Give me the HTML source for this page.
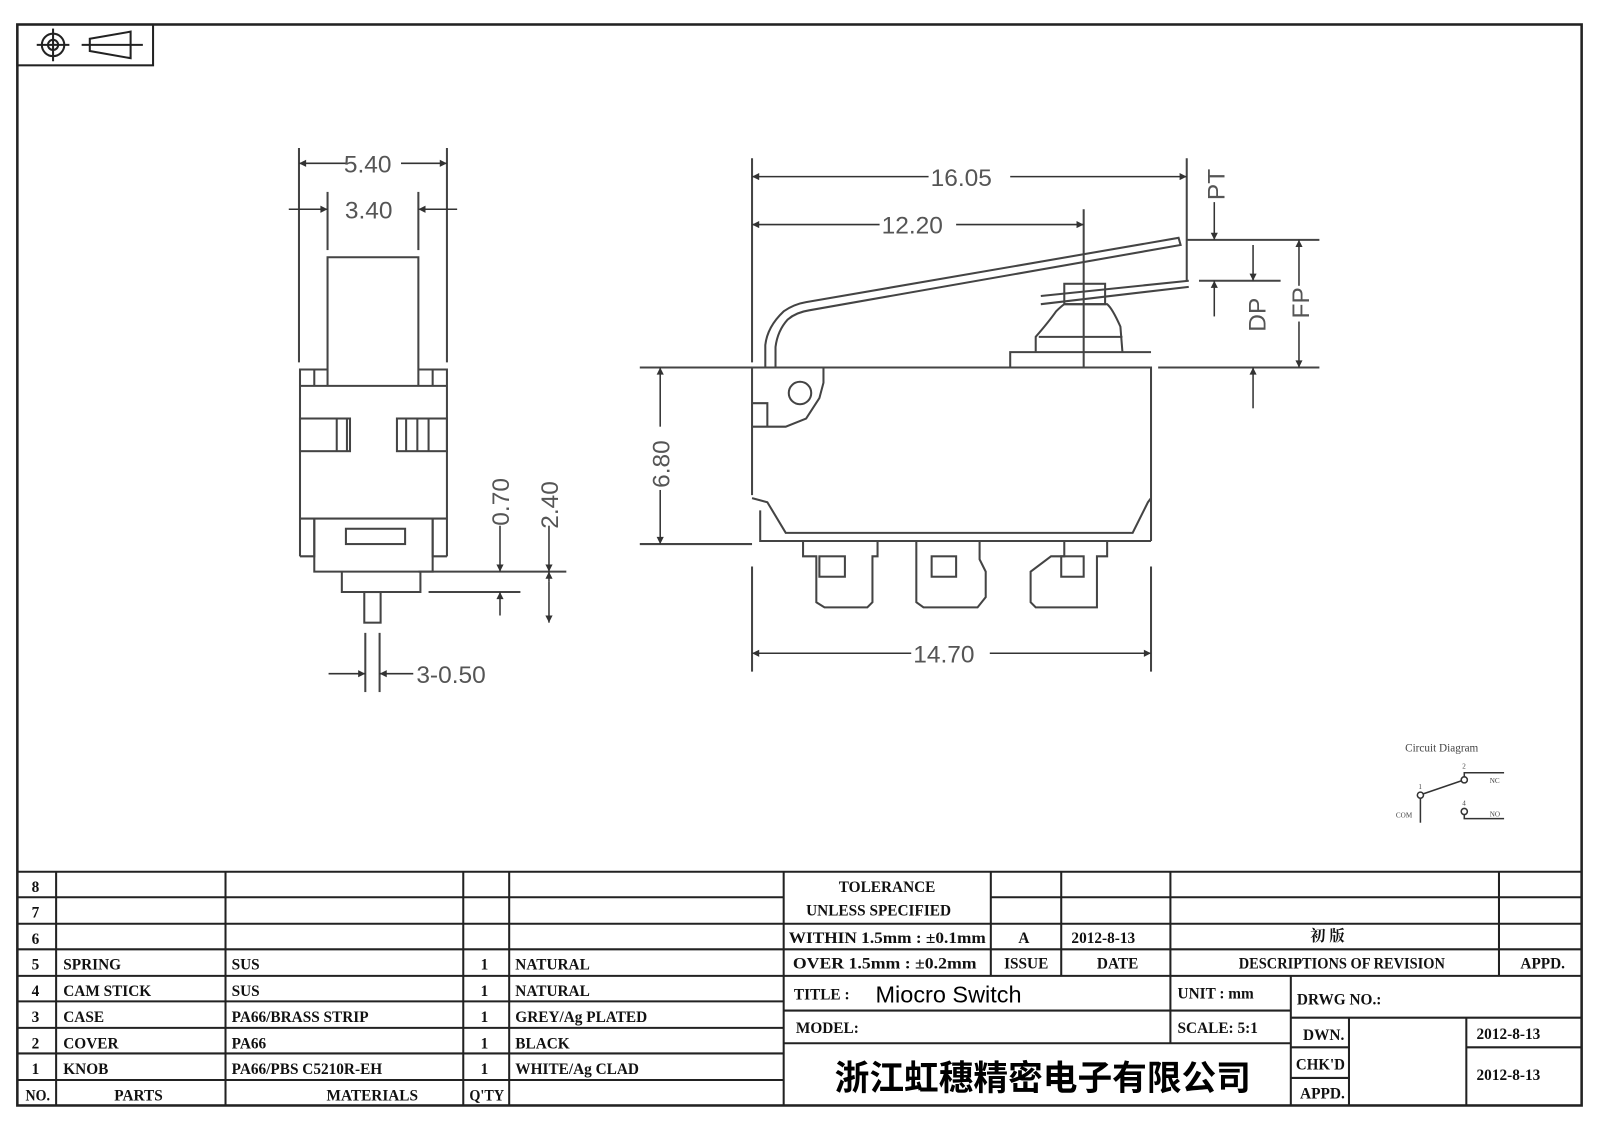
<!DOCTYPE html>
<html><head><meta charset="utf-8"><style>
html,body{margin:0;padding:0;background:#fff;}
svg{display:block;}
.t{font-family:"Liberation Serif","Noto Serif CJK SC",serif;font-weight:bold;font-size:15px;fill:#111;}
.d{font-family:"Liberation Sans",sans-serif;font-size:24px;fill:#555;}
</style></head><body>
<svg width="1600" height="1131" viewBox="0 0 1568 1108" preserveAspectRatio="none" xmlns="http://www.w3.org/2000/svg">
<defs>
<marker id="a" viewBox="0 0 10 10" refX="10" refY="5" markerWidth="16" markerHeight="7" orient="auto-start-reverse" markerUnits="userSpaceOnUse"><path d="M0,0 L10,5 L0,10z" fill="#333"/></marker>
</defs>
<rect width="1568" height="1108" fill="#fff"/>
<rect x="17" y="24" width="1533" height="1059" fill="none" stroke="#222" stroke-width="2.5"/>
<rect x="17" y="24" width="133" height="40" fill="none" stroke="#222" stroke-width="2"/>
<g stroke="#222" stroke-width="2" fill="none">
<circle cx="52" cy="44" r="11"/><circle cx="52" cy="44" r="5"/>
<line x1="36" y1="44" x2="68" y2="44"/><line x1="52" y1="28" x2="52" y2="60"/>
<path d="M88,38 L128,31 L128,57 L88,50z"/><line x1="80" y1="44" x2="140" y2="44"/>
</g>

<g stroke="#444" stroke-width="2" fill="none">
<line x1="293" y1="145" x2="293" y2="355"/><line x1="438" y1="145" x2="438" y2="355"/>
<line x1="321" y1="188" x2="321" y2="245"/><line x1="410" y1="188" x2="410" y2="245"/>
<path d="M321,378 V252 H410 V378"/>
<path d="M294,545 V362 H321 M410,362 H438 V545"/>
<line x1="294" y1="378" x2="438" y2="378"/>
<line x1="308" y1="362" x2="308" y2="378"/><line x1="424" y1="362" x2="424" y2="378"/>
<rect x="294" y="410" width="49" height="32"/><line x1="330" y1="410" x2="330" y2="442"/><line x1="340" y1="410" x2="340" y2="442"/>
<rect x="389" y="410" width="49" height="32"/><line x1="398" y1="410" x2="398" y2="442"/><line x1="409" y1="410" x2="409" y2="442"/><line x1="420" y1="410" x2="420" y2="442"/>
<line x1="294" y1="508" x2="438" y2="508"/>
<path d="M294,545 H308 V508 M438,545 H424 V508"/>
<path d="M308,508 V560 H424 V508"/>
<rect x="339" y="518" width="58" height="15"/>
<path d="M335,560 V580 H412 V560"/>
<rect x="357" y="580" width="16" height="30"/>
<line x1="358" y1="620" x2="358" y2="678"/><line x1="372" y1="620" x2="372" y2="678"/>
<line x1="410" y1="560" x2="555" y2="560"/>
<line x1="420" y1="580" x2="510" y2="580"/>
</g>
<g stroke="#333" stroke-width="1.5">
<line x1="293" y1="160" x2="340" y2="160" marker-start="url(#a)"/><line x1="393" y1="160" x2="438" y2="160" marker-end="url(#a)"/>
<line x1="283" y1="205" x2="321" y2="205" marker-end="url(#a)"/><line x1="410" y1="205" x2="448" y2="205" marker-start="url(#a)"/>
<line x1="490" y1="515" x2="490" y2="560" marker-end="url(#a)"/><line x1="490" y1="603" x2="490" y2="580" marker-end="url(#a)"/>
<line x1="538" y1="515" x2="538" y2="560" marker-end="url(#a)"/><line x1="538" y1="570" x2="538" y2="560" marker-end="url(#a)"/><line x1="538" y1="570" x2="538" y2="610" marker-end="url(#a)"/>
<line x1="322" y1="660" x2="358" y2="660" marker-end="url(#a)"/><line x1="405" y1="660" x2="372" y2="660" marker-end="url(#a)"/>
</g>
<text class="d" x="337" y="169">5.40</text>
<text class="d" x="338" y="214">3.40</text>
<text class="d" x="408" y="669">3-0.50</text>
<text class="d" transform="translate(499,515) rotate(-90)">0.70</text>
<text class="d" transform="translate(547,518) rotate(-90)">2.40</text>

<g stroke="#444" stroke-width="2" fill="none">
<path d="M737,360 H1128 V530"/>
<path d="M737,360 V485"/>
<path d="M737,395 H752 V418 M737,418 H770 L790,410 L803,390 L807,375 V360"/>
<circle cx="784" cy="385" r="11"/>
<path d="M750,360 V338 Q752,320 768,305 Q778,298 790,296 L1155,233 L1157,240 L793,304 Q780,306 772,313 Q762,324 760,340 V360"/>
<path d="M990,360 V345 H1128"/>
<path d="M1015,345 V330 Q1028,315 1035,305 Q1040,300 1043,298 H1085 Q1090,302 1098,320 L1100,345"/>
<rect x="1043" y="278" width="40" height="20"/>
<line x1="1018" y1="330" x2="1100" y2="330"/>
<line x1="1020" y1="290" x2="1165" y2="275"/><line x1="1020" y1="298" x2="1165" y2="281"/>
<path d="M737,488 L752,492 L770,522 H1110 L1125,492 L1128,488"/>
<path d="M745,500 V530 H1128"/>
<path d="M787,530 V545 H800 V590 L808,595 H850 L855,590 V545 H860 V530"/>
<rect x="803" y="545" width="25" height="20"/>
<path d="M898,530 V590 L905,595 H958 L966,585 V560 L960,548 V530"/>
<rect x="913" y="545" width="24" height="20"/>
<path d="M1043,530 V545 H1030 L1010,560 V590 L1015,595 H1075 V545 H1085 V530"/>
<rect x="1040" y="545" width="22" height="20"/>
<line x1="737" y1="155" x2="737" y2="355"/><line x1="1163" y1="155" x2="1163" y2="275"/>
<line x1="1062" y1="205" x2="1062" y2="360"/>
<line x1="627" y1="360" x2="737" y2="360"/><line x1="627" y1="533" x2="737" y2="533"/>
<line x1="737" y1="555" x2="737" y2="658"/><line x1="1128" y1="555" x2="1128" y2="658"/>
<line x1="1163" y1="235" x2="1293" y2="235"/><line x1="1175" y1="275" x2="1255" y2="275"/>
<line x1="1135" y1="360" x2="1293" y2="360"/>
</g>
<g stroke="#333" stroke-width="1.5">
<line x1="737" y1="173" x2="910" y2="173" marker-start="url(#a)"/><line x1="990" y1="173" x2="1163" y2="173" marker-end="url(#a)"/>
<line x1="737" y1="220" x2="862" y2="220" marker-start="url(#a)"/><line x1="937" y1="220" x2="1062" y2="220" marker-end="url(#a)"/>
<line x1="647" y1="360" x2="647" y2="418" marker-start="url(#a)"/><line x1="647" y1="480" x2="647" y2="533" marker-end="url(#a)"/>
<line x1="737" y1="640" x2="893" y2="640" marker-start="url(#a)"/><line x1="970" y1="640" x2="1128" y2="640" marker-end="url(#a)"/>
<line x1="1190" y1="198" x2="1190" y2="235" marker-end="url(#a)"/>
<line x1="1228" y1="240" x2="1228" y2="275" marker-end="url(#a)"/>
<line x1="1190" y1="310" x2="1190" y2="275" marker-end="url(#a)"/>
<line x1="1273" y1="280" x2="1273" y2="235" marker-end="url(#a)"/><line x1="1273" y1="315" x2="1273" y2="360" marker-end="url(#a)"/>
<line x1="1228" y1="400" x2="1228" y2="360" marker-end="url(#a)"/>
</g>
<text class="d" x="912" y="182">16.05</text>
<text class="d" x="864" y="229">12.20</text>
<text class="d" x="895" y="649">14.70</text>
<text class="d" transform="translate(656,478) rotate(-90)">6.80</text>
<text class="d" transform="translate(1200,196) rotate(-90)">PT</text>
<text class="d" transform="translate(1240,325) rotate(-90)">DP</text>
<text class="d" transform="translate(1283,312) rotate(-90)">FP</text>

<text x="1377" y="736" style="font-family:'Liberation Serif',serif;font-size:11px;fill:#444">Circuit Diagram</text>
<g stroke="#333" stroke-width="1.5" fill="none">
<circle cx="1392" cy="779" r="3"/><circle cx="1435" cy="764" r="3"/><circle cx="1435" cy="795" r="3"/>
<line x1="1394" y1="778" x2="1432" y2="765"/><line x1="1392" y1="782" x2="1392" y2="806"/>
<path d="M1435,761 V757 H1474"/><path d="M1435,798 V802 H1474"/>
</g>
<g style="font-family:'Liberation Serif',serif;font-size:7px;fill:#444">
<text x="1390" y="773">1</text><text x="1433" y="753">2</text><text x="1433" y="789">4</text>
<text x="1368" y="801">COM</text><text x="1460" y="767">NC</text><text x="1460" y="800">NO</text>
</g>

<g stroke="#222" stroke-width="2" fill="none">
<line x1="17" y1="854" x2="1550" y2="854"/>
<line x1="17" y1="879" x2="768" y2="879"/><line x1="17" y1="905" x2="768" y2="905"/><line x1="17" y1="930" x2="768" y2="930"/>
<line x1="17" y1="956" x2="1550" y2="956"/><line x1="17" y1="981" x2="768" y2="981"/><line x1="17" y1="1007" x2="768" y2="1007"/>
<line x1="17" y1="1032" x2="768" y2="1032"/><line x1="17" y1="1058" x2="768" y2="1058"/>
<line x1="55" y1="854" x2="55" y2="1083"/><line x1="221" y1="854" x2="221" y2="1083"/>
<line x1="454" y1="854" x2="454" y2="1083"/><line x1="499" y1="854" x2="499" y2="1083"/>
<line x1="768" y1="854" x2="768" y2="1083"/>
<line x1="971" y1="879" x2="1550" y2="879"/><line x1="768" y1="905" x2="1550" y2="905"/><line x1="768" y1="930" x2="1550" y2="930"/>
<line x1="971" y1="854" x2="971" y2="956"/><line x1="1040" y1="854" x2="1040" y2="956"/>
<line x1="1147" y1="854" x2="1147" y2="1022"/><line x1="1469" y1="854" x2="1469" y2="956"/>
<line x1="768" y1="990" x2="1265" y2="990"/><line x1="768" y1="1022" x2="1265" y2="1022"/>
<line x1="1265" y1="956" x2="1265" y2="1083"/>
<line x1="1265" y1="997" x2="1550" y2="997"/>
<line x1="1322" y1="997" x2="1322" y2="1083"/><line x1="1437" y1="997" x2="1437" y2="1083"/>
<line x1="1265" y1="1026" x2="1322" y2="1026"/><line x1="1265" y1="1056" x2="1322" y2="1056"/>
<line x1="1437" y1="1026" x2="1550" y2="1026"/>
</g>
<g class="t">
<text x="31" y="874">8</text><text x="31" y="899">7</text><text x="31" y="925">6</text><text x="31" y="950">5</text>
<text x="31" y="976">4</text><text x="31" y="1001">3</text><text x="31" y="1027">2</text><text x="31" y="1052">1</text>
<text x="25" y="1078" textLength="24" lengthAdjust="spacingAndGlyphs">NO.</text>
<text x="62" y="950">SPRING</text><text x="62" y="976">CAM STICK</text><text x="62" y="1001">CASE</text><text x="62" y="1027">COVER</text><text x="62" y="1052">KNOB</text>
<text x="112" y="1078">PARTS</text>
<text x="227" y="950">SUS</text><text x="227" y="976">SUS</text><text x="227" y="1001">PA66/BRASS STRIP</text><text x="227" y="1027">PA66</text><text x="227" y="1052">PA66/PBS C5210R-EH</text>
<text x="320" y="1078">MATERIALS</text>
<text x="471" y="950">1</text><text x="471" y="976">1</text><text x="471" y="1001">1</text><text x="471" y="1027">1</text><text x="471" y="1052">1</text>
<text x="460" y="1078" textLength="34" lengthAdjust="spacingAndGlyphs">Q'TY</text>
<text x="505" y="950">NATURAL</text><text x="505" y="976">NATURAL</text><text x="505" y="1001">GREY/Ag PLATED</text><text x="505" y="1027">BLACK</text><text x="505" y="1052">WHITE/Ag CLAD</text>
<text x="822" y="874">TOLERANCE</text>
<text x="790" y="897">UNLESS  SPECIFIED</text>
<text x="773" y="924" textLength="193" lengthAdjust="spacingAndGlyphs">WITHIN 1.5mm : ±0.1mm</text>
<text x="777" y="949" textLength="180" lengthAdjust="spacingAndGlyphs">OVER 1.5mm : ±0.2mm</text>
<text x="998" y="924">A</text><text x="1050" y="924">2012-8-13</text>
<text x="1284" y="922">初  版</text>
<text x="984" y="949">ISSUE</text><text x="1075" y="949">DATE</text>
<text x="1214" y="949" textLength="202" lengthAdjust="spacingAndGlyphs">DESCRIPTIONS OF REVISION</text><text x="1490" y="949">APPD.</text>
<text x="778" y="979">TITLE :</text>
<text x="1154" y="978">UNIT :  mm</text>
<text x="1271" y="984">DRWG NO.:</text>
<text x="780" y="1012">MODEL:</text>
<text x="1154" y="1012">SCALE:  5:1</text>
<text x="1277" y="1019">DWN.</text><text x="1270" y="1048" textLength="48" lengthAdjust="spacingAndGlyphs">CHK'D</text><text x="1274" y="1076" textLength="44" lengthAdjust="spacingAndGlyphs">APPD.</text>
<text x="1447" y="1018">2012-8-13</text><text x="1447" y="1058">2012-8-13</text>
</g>
<text x="858" y="982" style="font-family:'Liberation Sans',sans-serif;font-size:23px;fill:#000">Miocro Switch</text>
<text x="818" y="1068" style="font-family:'Liberation Sans','Noto Sans CJK SC',sans-serif;font-weight:bold;font-size:34px;fill:#000">浙江虹穗精密电子有限公司</text>
</svg>
</body></html>
